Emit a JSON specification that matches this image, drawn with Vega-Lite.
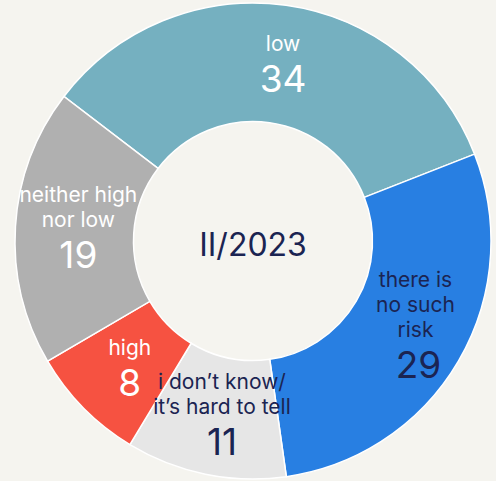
{
  "$schema": "https://vega.github.io/schema/vega-lite/v6.json",
  "width": 486,
  "height": 482,
  "autosize": {"type": "none"},
  "padding": {"left": 10, "right": 0, "top": 0, "bottom": 0},
  "background": "#F5F4EF",
  "config": {"view": {"stroke": null}, "font": "Inter"},
  "datasets": {
    "risk": [
      {"rank": 1, "cat": "low", "label": "low", "value": 34},
      {"rank": 2, "cat": "there is no such risk", "label": "there is\nno such\nrisk", "value": 29},
      {"rank": 3, "cat": "i don’t know/it’s hard to tell", "label": "i don’t know/\nit’s hard to tell", "value": 11},
      {"rank": 4, "cat": "high", "label": "high", "value": 8},
      {"rank": 5, "cat": "neither high nor low", "label": "neither high\nnor low", "value": 19}
    ],
    "center": [{"t": "II/2023"}]
  },
  "layer": [
    {
      "data": {"name": "risk"},
      "mark": {"type": "arc", "outerRadius": 238, "innerRadius": 119.5, "stroke": "#ffffff", "strokeWidth": 1.5},
      "encoding": {
        "theta": {"field": "value", "type": "quantitative", "stack": true, "scale": {"range": [-0.918, 5.365]}},
        "order": {"field": "rank", "type": "quantitative"},
        "color": {
          "field": "cat", "type": "nominal", "legend": null,
          "scale": {
            "domain": ["low", "there is no such risk", "i don’t know/it’s hard to tell", "high", "neither high nor low"],
            "range": ["#75B0C0", "#287FE2", "#E6E6E6", "#F65241", "#B0B0B0"]
          }
        }
      }
    },
    {
      "data": {"name": "risk"},
      "mark": {"type": "text", "radius": 180, "baseline": "alphabetic", "lineBreak": "\n", "lineHeight": 25, "fontSize": 21, "dx": 5, "dy": -12},
      "encoding": {
        "theta": {"field": "value", "type": "quantitative", "stack": true},
        "order": {"field": "rank", "type": "quantitative"},
        "text": {"condition": {"test": "length(split(datum.label, '\\n')) === 1", "field": "label"}, "value": ""},
        "color": {"condition": {"test": "datum.cat === 'low' || datum.cat === 'high' || datum.cat === 'neither high nor low'", "value": "#FFFFFF"}, "value": "#1B2452"}
      }
    },
    {
      "data": {"name": "risk"},
      "mark": {"type": "text", "radius": 180, "baseline": "alphabetic", "lineBreak": "\n", "lineHeight": 25, "fontSize": 21, "dx": 5, "dy": -28},
      "encoding": {
        "theta": {"field": "value", "type": "quantitative", "stack": true},
        "order": {"field": "rank", "type": "quantitative"},
        "text": {"condition": {"test": "length(split(datum.label, '\\n')) === 2", "field": "label"}, "value": ""},
        "color": {"condition": {"test": "datum.cat === 'low' || datum.cat === 'high' || datum.cat === 'neither high nor low'", "value": "#FFFFFF"}, "value": "#1B2452"}
      }
    },
    {
      "data": {"name": "risk"},
      "mark": {"type": "text", "radius": 180, "baseline": "alphabetic", "lineBreak": "\n", "lineHeight": 25, "fontSize": 21, "dx": 7, "dy": -45},
      "encoding": {
        "theta": {"field": "value", "type": "quantitative", "stack": true},
        "order": {"field": "rank", "type": "quantitative"},
        "text": {"condition": {"test": "length(split(datum.label, '\\n')) === 3", "field": "label"}, "value": ""},
        "color": {"condition": {"test": "datum.cat === 'low' || datum.cat === 'high' || datum.cat === 'neither high nor low'", "value": "#FFFFFF"}, "value": "#1B2452"}
      }
    },
    {
      "data": {"name": "risk"},
      "mark": {"type": "text", "radius": 180, "baseline": "alphabetic", "fontSize": 37, "dx": 5, "dy": 29},
      "encoding": {
        "theta": {"field": "value", "type": "quantitative", "stack": true},
        "order": {"field": "rank", "type": "quantitative"},
        "text": {"condition": {"test": "length(split(datum.label, '\\n')) === 1", "field": "value", "type": "quantitative"}, "value": ""},
        "color": {"condition": {"test": "datum.cat === 'low' || datum.cat === 'high' || datum.cat === 'neither high nor low'", "value": "#FFFFFF"}, "value": "#1B2452"}
      }
    },
    {
      "data": {"name": "risk"},
      "mark": {"type": "text", "radius": 180, "baseline": "alphabetic", "fontSize": 37, "dx": 5, "dy": 38},
      "encoding": {
        "theta": {"field": "value", "type": "quantitative", "stack": true},
        "order": {"field": "rank", "type": "quantitative"},
        "text": {"condition": {"test": "length(split(datum.label, '\\n')) === 2", "field": "value", "type": "quantitative"}, "value": ""},
        "color": {"condition": {"test": "datum.cat === 'low' || datum.cat === 'high' || datum.cat === 'neither high nor low'", "value": "#FFFFFF"}, "value": "#1B2452"}
      }
    },
    {
      "data": {"name": "risk"},
      "mark": {"type": "text", "radius": 180, "baseline": "alphabetic", "fontSize": 37, "dx": 10, "dy": 46},
      "encoding": {
        "theta": {"field": "value", "type": "quantitative", "stack": true},
        "order": {"field": "rank", "type": "quantitative"},
        "text": {"condition": {"test": "length(split(datum.label, '\\n')) === 3", "field": "value", "type": "quantitative"}, "value": ""},
        "color": {"condition": {"test": "datum.cat === 'low' || datum.cat === 'high' || datum.cat === 'neither high nor low'", "value": "#FFFFFF"}, "value": "#1B2452"}
      }
    },
    {
      "data": {"name": "center"},
      "mark": {"type": "text", "fontSize": 32, "baseline": "alphabetic", "dy": 15, "color": "#1B2452"},
      "encoding": {"text": {"field": "t", "type": "nominal"}}
    }
  ]
}
